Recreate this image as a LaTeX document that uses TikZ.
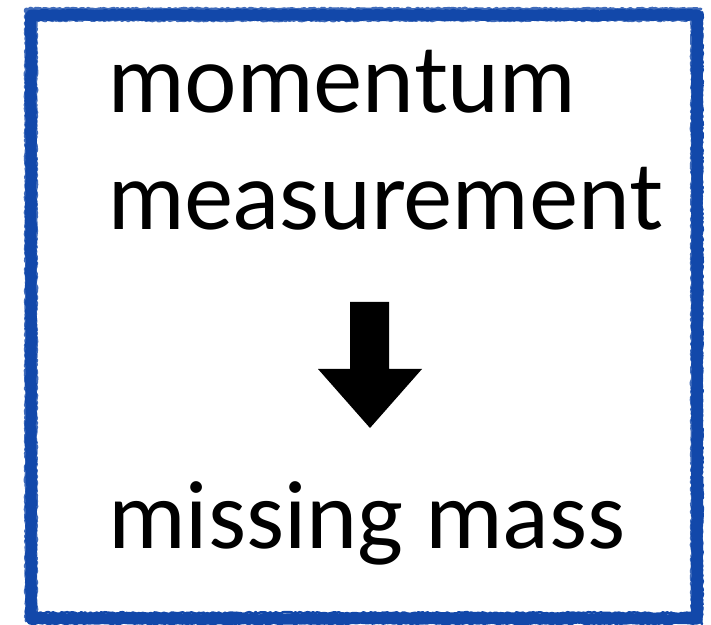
\documentclass[tikz,border=0pt]{standalone}
\usepackage{fontspec}
\setmainfont{Lato}
\newfontfamily\calib{Carlito}
\usetikzlibrary{decorations.pathmorphing}
\definecolor{chalkblue}{RGB}{18,72,170}
\begin{document}
\begin{tikzpicture}[x=1pt,y=1pt,
  chalk/.style={draw=chalkblue,line width=#1,line join=round,line cap=round,decorate,decoration={random steps,segment length=2pt,amplitude=0.9pt}},
  bigtext/.style={inner sep=0pt,anchor=base west,text=black}]
\useasboundingbox (0,0) rectangle (711,624);
\fill[white] (0,0) rectangle (711,624);
% chalk border
\draw[chalk=11pt] (31,5) rectangle (697,609);
\draw[chalk=3pt,opacity=0.8] (26,3) -- (26,615) -- (701,615);
\draw[chalk=3pt,opacity=0.8] (36,1) -- (36,604) -- (692,604) -- (692,1);
\draw[chalk=2.5pt] (702,0) -- (702,612);
\draw[chalk=2.5pt] (33,11) -- (692,11);
% texts
\node[bigtext] (mom) at (108,511) {\resizebox{467pt}{!}{momentum}};
\node[bigtext] (meas) at (108,394) {\resizebox{554pt}{!}{measurement}};
\node[bigtext] (miss) at (108,76) {\resizebox{517pt}{!}{\calib missing mass}};
% arrow
\fill[black] (350,322) -- (389,322) -- (389,255) -- (422,255) -- (370,196) -- (318,255) -- (350,255) -- cycle;
\end{tikzpicture}
\end{document}
